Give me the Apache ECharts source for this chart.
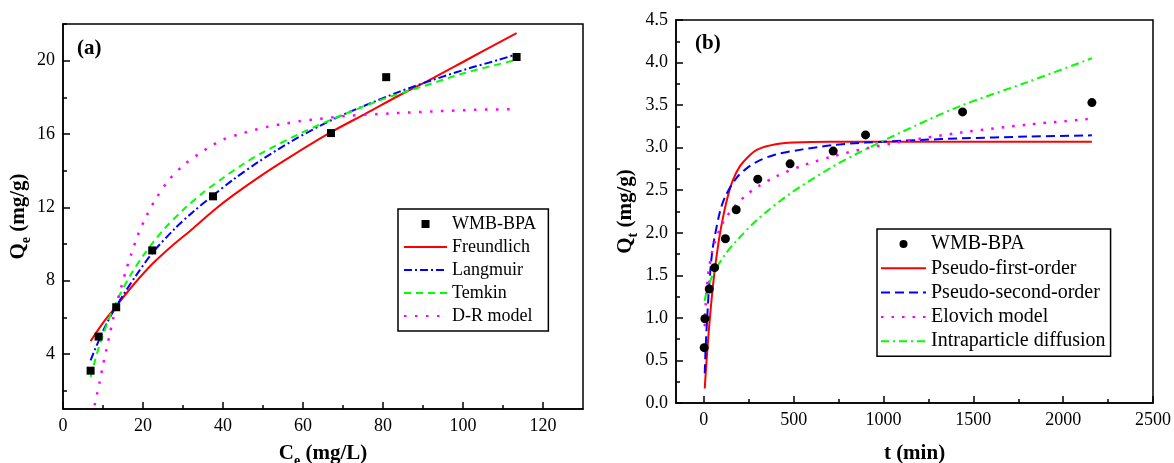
<!DOCTYPE html>
<html>
<head>
<meta charset="utf-8">
<script src="https://cdn.jsdelivr.net/npm/echarts@6/dist/echarts.min.js"></script>
<style>
  html, body { margin: 0; padding: 0; background: #fff; }
  #main { width: 1174px; height: 463px; }
</style>
</head>
<body>
<div id="main"></div>
<script>
// (a) isotherm data, Ce in mg/L, Qe in mg/g
const ceExp = [6.9, 8.9, 13.3, 22.3, 37.5, 67.0, 80.8, 113.4];
const qeExp = [3.09, 4.95, 6.55, 9.65, 12.6, 16.05, 19.1, 20.2];

const freundCe = [6.9, 10, 13.3, 17.5, 22.5, 27.5, 32.5, 37.5, 42.5, 50, 57.5, 67, 76, 84, 92.5, 101, 113.4];
const freundQe = [4.7, 5.7, 6.6, 7.75, 8.95, 9.95, 10.85, 11.8, 12.65, 13.8, 14.85, 16.1, 17.15, 18.1, 19.05, 20.05, 21.5];

const langCe = [6.9, 8, 9.2, 11, 13.3, 15, 18, 22.3, 28, 32.5, 37.5, 42.5, 49, 57.5, 67.5, 76, 84, 92.5, 101, 109, 113.4];
const langQe = [3.65, 4.25, 4.85, 5.7, 6.6, 7.2, 8.2, 9.5, 10.85, 11.75, 12.65, 13.5, 14.5, 15.65, 16.8, 17.6, 18.3, 18.95, 19.55, 20.05, 20.35];

const temCe = [6.9, 8, 9, 10, 12, 14, 17, 20, 25, 30, 35, 40, 45, 50, 60, 70, 80, 90, 100, 113.4];
const temQe = [2.75, 3.65, 4.4, 5.05, 6.2, 7.15, 8.35, 9.35, 10.75, 11.85, 12.8, 13.6, 14.35, 15.0, 16.1, 17.05, 17.9, 18.6, 19.3, 20.05];

const drCe = [7.9, 8.5, 9.2, 10, 10.8, 11.7, 12.5, 13.5, 14.5, 15.8, 17, 18.75, 20.8, 23.3, 26.7, 30.4, 34.2, 37.1, 40, 44.2, 47.5, 51.3, 55, 59.2, 63, 71.7, 81.7, 92.5, 103.3, 112.5];
const drQe = [1.2, 1.8, 2.5, 3.4, 4.2, 5.1, 5.9, 6.8, 7.6, 8.6, 9.4, 10.5, 11.5, 12.5, 13.55, 14.35, 14.95, 15.35, 15.7, 16.0, 16.2, 16.4, 16.55, 16.7, 16.8, 17.0, 17.12, 17.23, 17.32, 17.35];

// (b) kinetics data, t in min, Qt in mg/g
const tExp = [2, 6, 30, 60, 120, 180, 300, 480, 720, 900, 1440, 2160];
const qtExp = [0.65, 0.99, 1.34, 1.59, 1.93, 2.27, 2.63, 2.81, 2.96, 3.15, 3.42, 3.53];

const pfoT = [5, 10, 20, 30, 45, 60, 80, 100, 130, 160, 200, 250, 300, 400, 500, 700, 1000, 1500, 2160];
const pfoQ = [0.17, 0.34, 0.64, 0.91, 1.26, 1.55, 1.86, 2.11, 2.4, 2.61, 2.78, 2.9, 2.98, 3.04, 3.06, 3.07, 3.07, 3.07, 3.07];

const psoT = [5, 10, 20, 30, 45, 60, 90, 120, 180, 240, 300, 400, 550, 720, 900, 1200, 1440, 1800, 2160];
const psoQ = [0.35, 0.65, 1.05, 1.4, 1.75, 1.95, 2.25, 2.43, 2.64, 2.76, 2.84, 2.92, 2.98, 3.03, 3.06, 3.09, 3.11, 3.13, 3.145];

const eloT = [5, 10, 20, 30, 45, 60, 90, 120, 180, 240, 300, 400, 550, 720, 900, 1100, 1440, 1800, 2160];
const eloQ = [0.9, 1.15, 1.43, 1.6, 1.77, 1.88, 2.05, 2.17, 2.33, 2.45, 2.54, 2.66, 2.79, 2.9, 2.99, 3.07, 3.18, 3.27, 3.34];

const ipdT = [5, 10, 30, 60, 120, 180, 300, 480, 720, 900, 1200, 1440, 1800, 2160];
const ipdQ = [1.2, 1.26, 1.4, 1.55, 1.75, 1.9, 2.16, 2.46, 2.78, 2.98, 3.28, 3.5, 3.77, 4.05];

// tick labels
const ceTicks = [0, 20, 40, 60, 80, 100, 120];
const ceMinor = [10, 30, 50, 70, 90, 110];
const qeTicks = [4, 8, 12, 16, 20];
const qeMinor = [2, 6, 10, 14, 18, 22];
const tTicks = [0, 500, 1000, 1500, 2000, 2500];
const tMinor = [250, 750, 1250, 1750, 2250];
const qtTicks = [0, 0.5, 1, 1.5, 2, 2.5, 3, 3.5, 4, 4.5];
const qtMinor = [0.25, 0.75, 1.25, 1.75, 2.25, 2.75, 3.25, 3.75, 4.25];

const FONT = 'Liberation Serif';
const zip = (xs, ys) => xs.map((x, i) => [x, ys[i]]);

const nameRich = {
  m: { fontFamily: FONT, fontWeight: 'bold', fontSize: 21, color: '#000', verticalAlign: 'bottom', padding: [0, 0, 4, 0] },
  s: { fontFamily: FONT, fontWeight: 'bold', fontSize: 14, color: '#000', verticalAlign: 'bottom' }
};

function mainAxis(gridIndex, min, max, ticks, fmt, extra) {
  return Object.assign({
    gridIndex, type: 'value', min, max,
    axisLine: { onZero: false, lineStyle: { color: '#000', width: 1.5 } },
    axisTick: { inside: true, length: 7, customValues: ticks, lineStyle: { color: '#000', width: 1.5 } },
    axisLabel: { customValues: ticks, formatter: fmt, color: '#000', fontFamily: FONT, fontSize: 18, margin: 8 },
    splitLine: { show: false }
  }, extra);
}

function minorAxis(gridIndex, min, max, ticks, position) {
  return {
    gridIndex, type: 'value', min, max, position,
    axisLine: { show: false, onZero: false },
    axisTick: { inside: true, length: 4, customValues: ticks, lineStyle: { color: '#000', width: 1.5 } },
    axisLabel: { show: false },
    splitLine: { show: false }
  };
}

function curve(name, x, y, xi, yi, color, dash, width) {
  return {
    name, type: 'line', xAxisIndex: xi, yAxisIndex: yi,
    data: zip(x, y), showSymbol: false, symbol: 'none', smooth: 0.3,
    lineStyle: { color, type: dash, width: width || 2 }, itemStyle: { color },
    z: 3
  };
}

// measured points: line series with an invisible line, so the legend icon is a small symbol
function points(name, x, y, xi, yi, symbol, size) {
  return {
    name, type: 'line', xAxisIndex: xi, yAxisIndex: yi,
    data: zip(x, y), showSymbol: true, symbol, symbolSize: size,
    lineStyle: { width: 0, opacity: 0 }, itemStyle: { color: '#000', opacity: 1 },
    z: 5
  };
}

const hideDot = { itemStyle: { opacity: 0 } };
const hideLine = { lineStyle: { opacity: 0, width: 0 } };

const chart = echarts.init(document.getElementById('main'), null, { renderer: 'canvas' });

chart.setOption({
  backgroundColor: '#fff',
  animation: false,
  grid: [
    { left: 63, top: 24, width: 520, height: 385, outerBoundsMode: 'none', show: true, borderColor: '#000', borderWidth: 1.5, backgroundColor: 'transparent' },
    { left: 676, top: 20, width: 477, height: 383, outerBoundsMode: 'none', show: true, borderColor: '#000', borderWidth: 1.5, backgroundColor: 'transparent' }
  ],
  xAxis: [
    mainAxis(0, 0, 130, ceTicks, (v) => v, {
      position: 'bottom', name: '{m|C}{s|e}{m| (mg/L)}', nameLocation: 'middle', nameGap: 34,
      nameTextStyle: { rich: nameRich }
    }),
    minorAxis(0, 0, 130, ceMinor, 'bottom'),
    mainAxis(1, -155, 2500, tTicks, (v) => v, {
      position: 'bottom', name: '{m|t (min)}', nameLocation: 'middle', nameGap: 40,
      nameTextStyle: { rich: nameRich }
    }),
    minorAxis(1, -155, 2500, tMinor, 'bottom')
  ],
  yAxis: [
    mainAxis(0, 1, 22, qeTicks, (v) => v, {
      position: 'left', name: '{m|Q}{s|e}{m| (mg/g)}', nameLocation: 'middle', nameGap: 24,
      nameTextStyle: { rich: nameRich }
    }),
    minorAxis(0, 1, 22, qeMinor, 'left'),
    mainAxis(1, 0, 4.5, qtTicks, (v) => v.toFixed(1), {
      position: 'left', name: '{m|Q}{s|t}{m| (mg/g)}', nameLocation: 'middle', nameGap: 36,
      nameTextStyle: { rich: nameRich }
    }),
    minorAxis(1, 0, 4.5, qtMinor, 'left')
  ],
  legend: [
    {
      orient: 'vertical', left: 398, top: 209, selectedMode: false,
      data: [
        Object.assign({ name: 'WMB-BPA' }, hideLine),
        Object.assign({ name: 'Freundlich' }, hideDot),
        Object.assign({ name: 'Langmuir' }, hideDot),
        Object.assign({ name: 'Temkin' }, hideDot),
        Object.assign({ name: 'D-R model' }, hideDot)
      ],
      borderColor: '#000', borderWidth: 1.5, borderRadius: 0, padding: [6, 12, 6, 5],
      itemWidth: 43, itemHeight: 10, itemGap: 5,
      textStyle: { fontFamily: FONT, fontSize: 18, color: '#000', lineHeight: 18 }
    },
    {
      orient: 'vertical', left: 877, top: 229, selectedMode: false,
      data: [
        Object.assign({ name: 'WMB-BPA ' }, hideLine),
        Object.assign({ name: 'Pseudo-first-order' }, hideDot),
        Object.assign({ name: 'Pseudo-second-order' }, hideDot),
        Object.assign({ name: 'Elovich model' }, hideDot),
        Object.assign({ name: 'Intraparticle diffusion' }, hideDot)
      ],
      borderColor: '#000', borderWidth: 1.5, borderRadius: 0, padding: [5, 5, 5, 3],
      itemWidth: 45, itemHeight: 10, itemGap: 4.3,
      textStyle: { fontFamily: FONT, fontSize: 20, color: '#000', lineHeight: 20 }
    }
  ],
  graphic: [
    { type: 'text', left: 77, top: 38, style: { text: '(a)', font: 'bold 21px "Liberation Serif"', fill: '#000' } },
    { type: 'text', left: 695, top: 33, style: { text: '(b)', font: 'bold 21px "Liberation Serif"', fill: '#000' } }
  ],
  series: [
    curve('Freundlich', freundCe, freundQe, 0, 0, '#ff0000', 'solid', 2),
    curve('Langmuir', langCe, langQe, 0, 0, '#0000ff', [8, 3, 2, 3], 2),
    curve('Temkin', temCe, temQe, 0, 0, '#00ff00', [7, 5], 2),
    curve('D-R model', drCe, drQe, 0, 0, '#ff00ff', [2.5, 8.5], 2.5),
    points('WMB-BPA', ceExp, qeExp, 0, 0, 'rect', 8),
    curve('Pseudo-first-order', pfoT, pfoQ, 2, 2, '#ff0000', 'solid', 2),
    curve('Pseudo-second-order', psoT, psoQ, 2, 2, '#0000ff', [9, 5], 2),
    curve('Elovich model', eloT, eloQ, 2, 2, '#ff00ff', [2.5, 8], 2.5),
    curve('Intraparticle diffusion', ipdT, ipdQ, 2, 2, '#00ff00', [8, 4, 2, 4], 2),
    points('WMB-BPA ', tExp, qtExp, 2, 2, 'circle', 9)
  ]
});
</script>
</body>
</html>
